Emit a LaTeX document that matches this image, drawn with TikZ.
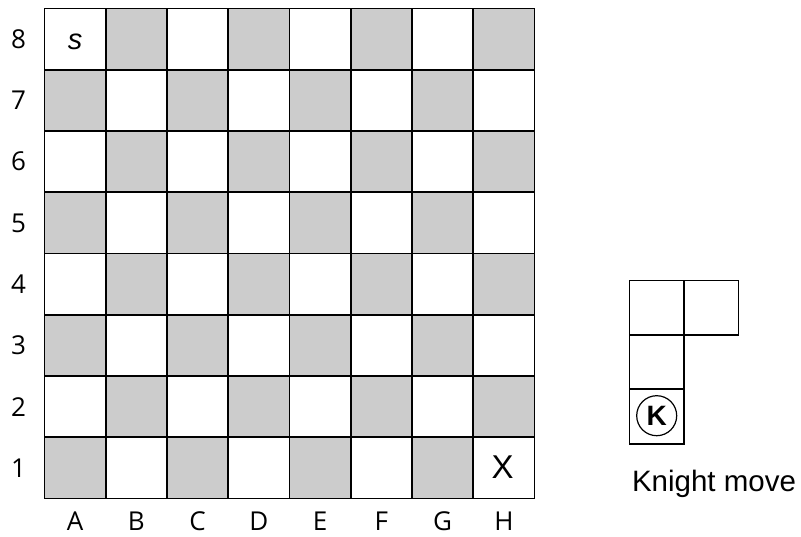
\documentclass[tikz,border=0pt]{standalone}
\usepackage{fontspec}
\setmainfont{Liberation Sans}
\newfontfamily\labfont{Open Sans}
\definecolor{sqgray}{RGB}{204,204,204}
\begin{document}
\begin{tikzpicture}[x=1pt,y=-1pt,
  sqbox/.style={draw=black,line width=1.6pt,inner sep=0pt,outer sep=0pt,minimum size=61.25pt},
  kbox/.style={draw=black,line width=1.6pt,inner sep=0pt,outer sep=0pt,minimum size=54.5pt,fill=white},
  lab/.style={font=\labfont\fontsize{26}{26}\selectfont,inner sep=0pt}]
\useasboundingbox (0,0) rectangle (801,536);
\foreach \i in {0,...,7}{
  \foreach \j in {0,...,7}{
    \pgfmathtruncatemacro{\sqpar}{mod(\i+\j,2)}
    \ifnum\sqpar=1
      \node[sqbox,fill=sqgray] (sq-\i-\j) at ({44.5+61.25*(\i+0.5)},{8.5+61.25*(\j+0.5)}) {};
    \else
      \node[sqbox,fill=white] (sq-\i-\j) at ({44.5+61.25*(\i+0.5)},{8.5+61.25*(\j+0.5)}) {};
    \fi
  }
}
\foreach \c [count=\k from 0] in {A,B,C,D,E,F,G,H}{
  \node[lab,anchor=base] (col-\c) at ({44.5+61.25*(\k+0.5)},530.5) {\c};
}
\foreach \r [count=\k from 0] in {8,7,6,5,4,3,2,1}{
  \node[lab] (row-\r) at (18.5,{8.5+61.25*(\k+0.5)}) {\r};
}
\node[inner sep=0pt,font=\fontsize{29}{29}\selectfont\itshape] (s) at (75,42) {s};
\node[inner sep=0pt,font=\fontsize{33}{33}\selectfont] (x) at (502.6,467.2) {X};
% knight move
\node[kbox] (k1) at (656.7,307.9) {};
\node[kbox] (k2) at (711.2,307.9) {};
\node[kbox] (k3) at (656.7,362.2) {};
\node[kbox] (k4) at (656.7,416.5) {};
\node[draw=black,line width=1.2pt,circle,minimum size=40pt,inner sep=0pt,font=\fontsize{28}{28}\selectfont\bfseries] (kn) at (656.7,415.7) {K};
\node[inner sep=0pt,anchor=base,font=\fontsize{29.5}{29.5}\selectfont] (cap) at (714,491.7) {Knight move};
\end{tikzpicture}
\end{document}
